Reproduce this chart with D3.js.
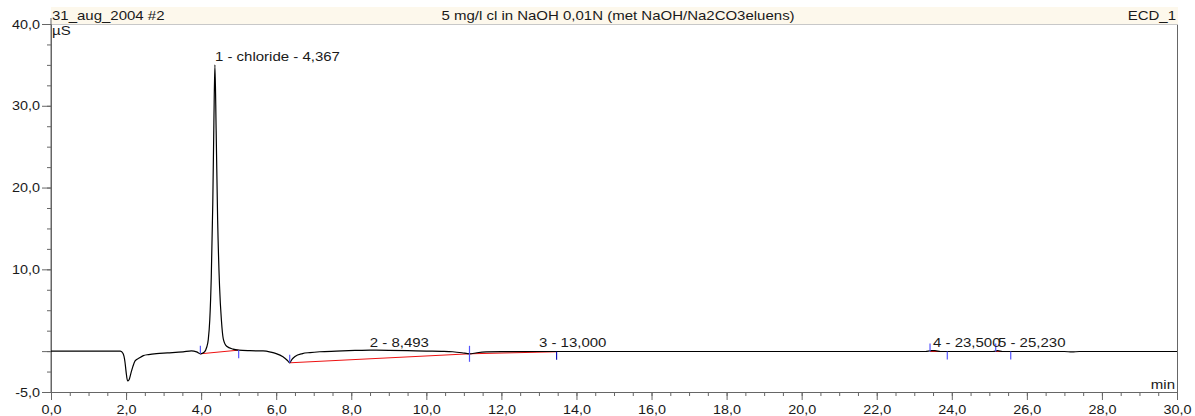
<!DOCTYPE html>
<meta charset="utf-8">
<style>
    body { margin: 0; background: #fff; }
    text { font-family: "Liberation Sans", Arial, sans-serif; font-size: 12.5px; fill: #1a1a1a; }
    .axis path, .axis line { stroke: #666; }
</style>
<body>
<svg width="1195" height="416"></svg>
<script src="https://d3js.org/d3.v7.min.js"></script>
<script>

    // chromatogram trace (min, µS)
    var times = [0, 1.85, 1.92, 1.97, 2.0, 2.04, 2.08, 2.13, 2.18, 2.24, 2.35, 2.46, 2.6, 2.81, 3.1, 3.52, 3.74, 3.88, 3.98,
        4.08, 4.15, 4.19, 4.23, 4.27, 4.31, 4.34, 4.367, 4.40, 4.44, 4.49, 4.54, 4.59, 4.68, 4.85, 5.0, 5.3, 5.65, 5.85,
        6.0, 6.18, 6.3, 6.36, 6.42, 6.5, 6.7, 6.9, 7.16, 7.6, 8.1, 8.5, 9.0, 9.5, 10.0, 10.4, 10.7, 10.95, 11.15, 11.35,
        11.6, 12.0, 13.0, 15.0, 18.0, 21.0, 23.3, 23.45, 23.55, 23.7, 25.1, 25.22, 25.35, 27.0, 27.2, 27.4, 30.0];
    var signal = [0, 0, -0.3, -1.3, -2.5, -3.65, -3.5, -2.7, -1.9, -1.2, -0.85, -0.55, -0.42, -0.3, -0.22, -0.1, 0.03, -0.1, -0.33,
        -0.15, 0.5, 1.4, 3.8, 9, 18, 28, 35.0, 27, 16, 8, 3.8, 1.5, 0.6, 0.25, 0.12, 0.05, 0.02, -0.12,
        -0.3, -0.7, -1.15, -1.43, -1.0, -0.65, -0.3, -0.18, -0.08, 0, 0.08, 0.12, 0.1, 0.05, 0, -0.03, -0.08, -0.2, -0.33, -0.2,
        -0.1, -0.06, -0.05, -0.05, -0.05, -0.05, -0.05, 0.05, 0.05, -0.05, -0.05, 0.05, -0.05, -0.05, -0.1, -0.05, -0.05];

    // peaks
    var peakLabels = ["1 - chloride - 4,367", "2 - 8,493", "3 - 13,000", "4 - 23,500", "5 - 25,230"];
    var peakTimes = [4.367, 8.493, 13.0, 23.5, 25.23];
    var peakValues = [35.0, 0.05, 0.05, 0.05, 0.05];

    // integration baselines
    var bslStartT = [3.98, 6.36, 11.15, 23.42, 25.17];
    var bslStartV = [-0.33, -1.43, -0.33, -0.05, -0.05];
    var bslEndT = [5.0, 11.15, 13.47, 23.88, 25.57];
    var bslEndV = [0.12, -0.33, -0.08, -0.05, -0.05];

    var xMajor = d3.range(0, 30.01, 2);
    var xMinor = d3.range(0, 30.01, 0.5);
    var yMajor = [-5, 0, 10, 20, 30, 40];
    var yMinor = d3.range(-5, 40.01, 2.5);

    var titleLeft = "31_aug_2004 #2";
    var titleMid = "5 mg/l cl in NaOH 0,01N (met NaOH/Na2CO3eluens)";
    var titleRight = "ECD_1";

    var svg = d3.select("svg");
    var sx = 1.2; // text in the original is stretched horizontally

    var x = d3.scaleLinear().domain([0, 30]).range([51, 1177]);
    var y = d3.scaleLinear().domain([-5, 40]).range([392, 24]);

    function fmt(d) { return d.toFixed(1).replace(".", ","); }

    function label(txt, px, py, anchor) {
        svg.append("text")
            .attr("transform", "translate(" + px + "," + py + ") scale(" + sx + ",1)")
            .attr("text-anchor", anchor || "start")
            .text(txt);
    }

    // title band
    svg.append("rect").attr("x", 51).attr("y", 7).attr("width", 1127).attr("height", 17).attr("fill", "#fdf8ec");
    svg.append("line").attr("x1", 51).attr("x2", 1178).attr("y1", 24.5).attr("y2", 24.5).attr("stroke", "#c8c8c8");
    label(titleLeft, 52, 20);
    label(titleMid, 618, 20, "middle");
    label(titleRight, 1176, 20, "end");

    // right border
    svg.append("line").attr("x1", 1177.5).attr("x2", 1177.5).attr("y1", 25).attr("y2", 392).attr("stroke", "#666");

    // axes
    svg.append("g").attr("class", "axis").attr("transform", "translate(0,392)")
        .call(d3.axisBottom(x).tickValues(xMinor).tickSize(4).tickSizeOuter(0).tickFormat(""));
    var xa = svg.append("g").attr("class", "axis").attr("transform", "translate(0,392)")
        .call(d3.axisBottom(x).tickValues(xMajor).tickSize(8).tickSizeOuter(0).tickFormat(fmt));
    xa.selectAll("text").attr("y", 0).attr("dy", null)
        .attr("transform", "translate(0,22) scale(" + sx + ",1)").style("font-size", "12px");

    svg.append("g").attr("class", "axis").attr("transform", "translate(51,0)")
        .call(d3.axisLeft(y).tickValues(yMinor).tickSize(4).tickSizeOuter(0).tickFormat(""));
    var ya = svg.append("g").attr("class", "axis").attr("transform", "translate(51,0)")
        .call(d3.axisLeft(y).tickValues(yMajor).tickSize(9).tickSizeOuter(0)
            .tickFormat(function (d) { return d === 0 ? "" : fmt(d); }));
    ya.selectAll("text").attr("x", 0).attr("dy", "0.35em")
        .attr("transform", "translate(-11,0) scale(" + sx + ",1)").style("font-size", "12px");
    ya.select(".domain").attr("d", "M0,392V18");

    label("µS", 52, 35);
    label("min", 1175, 389, "end");

    // baselines
    bslStartT.forEach(function (t, i) {
        svg.append("line")
            .attr("x1", x(t)).attr("y1", y(bslStartV[i]))
            .attr("x2", x(bslEndT[i])).attr("y2", y(bslEndV[i]))
            .attr("stroke", "#ee1111").attr("stroke-width", 1);
    });

    // trace
    var pts = times.map(function (t, i) { return [t, signal[i]]; });
    var line = d3.line().x(function (d) { return x(d[0]); }).y(function (d) { return y(d[1]); })
        .curve(d3.curveMonotoneX);
    svg.append("path").datum(pts).attr("d", line)
        .attr("fill", "none").attr("stroke", "#000").attr("stroke-width", 1.2);

    // delimiter marks
    bslStartT.forEach(function (t, i) {
        svg.append("line").attr("x1", x(t)).attr("x2", x(t))
            .attr("y1", y(bslStartV[i])).attr("y2", y(bslStartV[i]) - 8)
            .attr("stroke", "#5555ff").attr("stroke-width", 1.2);
        svg.append("line").attr("x1", x(bslEndT[i])).attr("x2", x(bslEndT[i]))
            .attr("y1", y(bslEndV[i])).attr("y2", y(bslEndV[i]) + 8)
            .attr("stroke", i === 2 ? "#1111bb" : "#5555ff").attr("stroke-width", 1.2);
    });

    // peak labels
    peakLabels.forEach(function (txt, i) {
        label(txt, x(peakTimes[i]), y(peakValues[i]) - 4);
    });

</script>
</body>
